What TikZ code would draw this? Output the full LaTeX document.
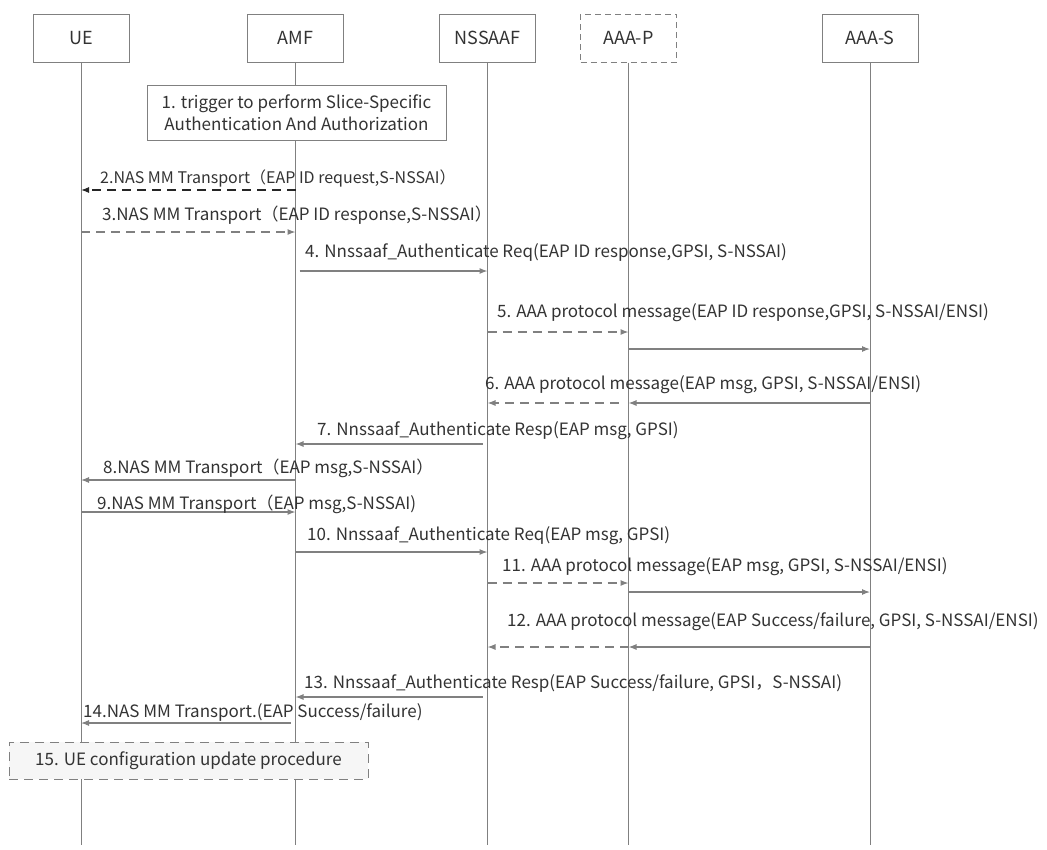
\documentclass[tikz,border=0pt]{standalone}
\usepackage{fontspec}
\setmainfont{Noto Sans CJK SC}
\usetikzlibrary{arrows.meta}
\definecolor{linegray}{HTML}{808080}
\definecolor{textgray}{HTML}{333333}
\tikzset{
  entity/.style={draw=linegray, line width=1pt, minimum width=96pt, minimum height=48pt,
    text=textgray, font=\fontsize{18}{20}\selectfont},
  life/.style={draw=linegray, line width=1pt},
  msg/.style={draw=linegray, line width=1.1pt, ->},
  reply/.style={msg, dash pattern=on 9pt off 6pt},
  lbl/.style={anchor=west, inner sep=0pt, text=textgray, font=\fontsize{17}{19}\selectfont},
  stepbox/.style={draw=linegray, line width=1pt, fill=white, align=center,
    text=textgray, font=\fontsize{17}{22}\selectfont}
}
\begin{document}
\begin{tikzpicture}[x=1pt, y=-1pt, >={Latex[length=8pt,width=6pt]}]
\useasboundingbox (0,0) rectangle (1047,849);

% network functions
\node[entity] (ue) at (81,38) {UE};
\node[entity] (amf) at (295.5,38) {AMF};
\node[entity] (nssaaf) at (487.5,38) {NSSAAF};
\node[entity, dash pattern=on 6pt off 4pt] (aaap) at (628.5,38) {AAA-P};
\node[entity] (aaas) at (870,38) {AAA-S};

% lifelines
\foreach \n in {ue,amf,nssaaf,aaap,aaas}
  \draw[life] (\n.south) -- (\n.south |- 0,845);

% 1
\node[stepbox, minimum width=299pt, minimum height=55pt] (s1) at (296.5,112.5)
  {1. trigger to perform Slice-Specific\\Authentication And Authorization};

% 2 - 3
\draw[reply, draw=black!85] (amf |- 0,190) -- (ue |- 0,190);
\node[lbl, font=\fontsize{16}{18}\selectfont] (l2) at (100,178)
  {2.NAS MM Transport（EAP ID request,S-NSSAI）};
\draw[reply] (ue |- 0,232) -- (amf |- 0,232);
\node[lbl] (l3) at (102,215) {3.NAS MM Transport（EAP ID response,S-NSSAI）};

% 4 - 7
\draw[msg, shorten <=4pt] (amf |- 0,271) -- (nssaaf |- 0,271);
\node[lbl] (l4) at (305,252) {4. Nnssaaf\_Authenticate Req(EAP ID response,GPSI, S-NSSAI)};
\draw[reply] (nssaaf |- 0,332) -- (aaap |- 0,332);
\draw[msg] (aaap |- 0,349) -- (aaas |- 0,349);
\node[lbl] (l5) at (497,313) {5. AAA protocol message(EAP ID response,GPSI, S-NSSAI/ENSI)};
\draw[msg] (aaas |- 0,403) -- (aaap |- 0,403);
\draw[reply, shorten <=10pt] (aaap |- 0,403) -- (nssaaf |- 0,403);
\node[lbl] (l6) at (485,385) {6. AAA protocol message(EAP msg, GPSI, S-NSSAI/ENSI)};
\draw[msg, shorten <=5pt] (nssaaf |- 0,444) -- (amf |- 0,444);
\node[lbl] (l7) at (317,431) {7. Nnssaaf\_Authenticate Resp(EAP msg, GPSI)};

% 8 - 9
\draw[msg] (amf |- 0,480) -- (ue |- 0,480);
\node[lbl] (l8) at (103,468) {8.NAS MM Transport（EAP msg,S-NSSAI）};
\draw[msg] (ue |- 0,512) -- (amf |- 0,512);
\node[lbl] (l9) at (97,504) {9.NAS MM Transport（EAP msg,S-NSSAI)};

% 10 - 13
\draw[msg] (amf |- 0,552) -- (nssaaf |- 0,552);
\node[lbl] (l10) at (307,536) {10. Nnssaaf\_Authenticate Req(EAP msg, GPSI)};
\draw[reply] (nssaaf |- 0,583) -- (aaap |- 0,583);
\draw[msg] (aaap |- 0,592) -- (aaas |- 0,592);
\node[lbl] (l11) at (502,567) {11. AAA protocol message(EAP msg, GPSI, S-NSSAI/ENSI)};
\draw[msg] (aaas |- 0,647) -- (aaap |- 0,647);
\draw[reply] (aaap |- 0,647) -- (nssaaf |- 0,647);
\node[lbl] (l12) at (507,622) {12. AAA protocol message(EAP Success/failure, GPSI, S-NSSAI/ENSI)};
\draw[msg, shorten <=5pt] (nssaaf |- 0,697) -- (amf |- 0,697);
\node[lbl] (l13) at (304,683) {13. Nnssaaf\_Authenticate Resp(EAP Success/failure, GPSI，S-NSSAI)};

% 14 - 15
\draw[msg, shorten <=5pt] (amf |- 0,723) -- (ue |- 0,723);
\node[lbl] (l14) at (83,712) {14.NAS MM Transport.(EAP Success/failure)};
\node[stepbox, dash pattern=on 9pt off 6pt, fill=gray!7, minimum width=359pt,
  minimum height=37pt] (s15) at (188.5,760.5) {15. UE configuration update procedure};
\end{tikzpicture}
\end{document}
